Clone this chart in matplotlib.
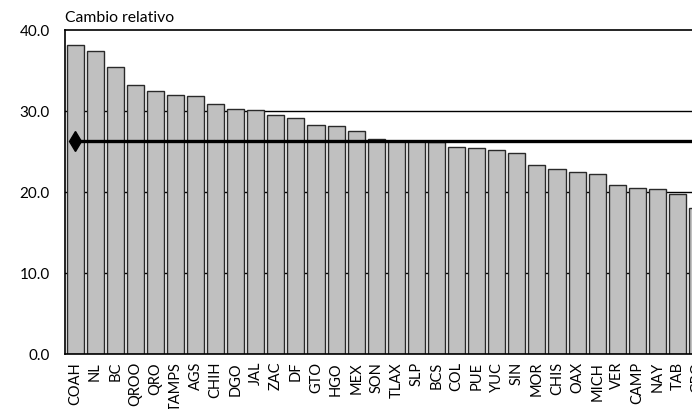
import numpy as np
import matplotlib.pyplot as plt

plt.rcParams['font.family'] = ['Lato', 'DejaVu Sans']

estados = ["COAH", "NL", "BC", "QROO", "QRO", "TAMPS", "AGS", "CHIH", "DGO", "JAL",
           "ZAC", "DF", "GTO", "HGO", "MEX", "SON", "TLAX", "SLP", "BCS", "COL",
           "PUE", "YUC", "SIN", "MOR", "CHIS", "OAX", "MICH", "VER", "CAMP", "NAY",
           "TAB", "GRO"]
cambio = [38.1, 37.4, 35.4, 33.2, 32.5, 32.0, 31.8, 30.9, 30.3, 30.1,
          29.5, 29.1, 28.3, 28.1, 27.5, 26.5, 26.3, 26.3, 26.2, 25.6,
          25.4, 25.2, 24.8, 23.3, 22.9, 22.5, 22.2, 20.9, 20.5, 20.4,
          19.7, 18.0]
promedio = 26.3
y_ticks = [0, 10, 20, 30, 40]

fig = plt.figure(figsize=(6.92, 4.10), dpi=100)
# axes run past the right edge of the figure, as in the original cut-off chart
ax = fig.add_axes([65 / 692, 55 / 410, 642.6 / 692, 324 / 410])

x = np.arange(len(estados))
ax.bar(x, cambio, width=0.85, color="#c0c0c0", edgecolor="#2a2a2a", linewidth=1.0, zorder=2)
ax.plot(np.arange(len(estados) + 2), [promedio] * (len(estados) + 2), color="black",
        linewidth=2.4, marker="d", markersize=10, markevery=[0], zorder=3)

ax.set_xlim(-0.5, len(estados) - 0.5)
ax.set_ylim(0, 40)
ax.set_yticks(y_ticks)
ax.set_yticklabels([f"{v:.1f}" for v in y_ticks], fontsize=11)
ax.set_xticks(x)
ax.set_xticklabels(estados, rotation=90, fontsize=10.5)
ax.tick_params(axis="x", length=0, pad=5)
ax.tick_params(axis="y", length=0, pad=11)

for v in y_ticks[1:-1]:
    ax.axhline(v, color="black", linewidth=1.0, zorder=1)

ax.spines["right"].set_visible(False)
for side in ["left", "bottom", "top"]:
    ax.spines[side].set_linewidth(1.2)
    ax.spines[side].set_color("black")

fig.text(65 / 692, 1 - 18 / 410, "Cambio relativo", fontsize=11.3, va="center", ha="left")

fig.savefig("out.png", dpi=100)
